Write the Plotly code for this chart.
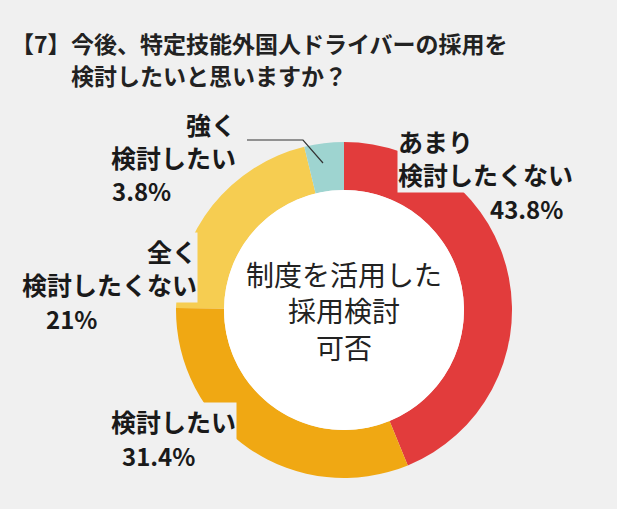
import plotly.graph_objects as go

# データ
categories = ["あまり検討したくない", "検討したい", "全く検討したくない", "強く検討したい"]
values = [43.8, 31.4, 21.0, 3.8]
colors = ["#e23c3c", "#f0a813", "#f6cd51", "#9ed4d0"]
pct_labels = ["43.8%", "31.4%", "21%", "3.8%"]
name_labels = ["あまり<br>検討したくない", "検討したい", "全く<br>検討したくない", "強く<br>検討したい"]

title_num = "【7】"
title_line1 = "今後、特定技能外国人ドライバーの採用を"
title_line2 = "検討したいと思いますか？"
center_text = "制度を活用した<br>採用検討<br>可否"

W, H = 617, 509
BG = "#f0f0f0"
FONT = "Noto Sans CJK JP"


def px(x):
    return x / W


def py(y):
    return 1 - y / H


# ドーナツの位置（ピクセル）
cx, cy, R, r_in = 344, 310, 168, 120

fig = go.Figure(go.Pie(
    labels=categories,
    values=values,
    marker=dict(colors=colors, line=dict(width=0)),
    hole=r_in / R,
    sort=False,
    direction="clockwise",
    rotation=0,
    textinfo="none",
    hoverinfo="label+percent",
    domain=dict(x=[px(cx - R), px(cx + R)], y=[py(cy + R), py(cy - R)]),
    showlegend=False,
))

# 中央の白い円
fig.add_shape(type="circle", xref="paper", yref="paper",
              x0=px(cx - r_in), x1=px(cx + r_in), y0=py(cy + r_in), y1=py(cy - r_in),
              fillcolor="white", line=dict(width=0))

# 引き出し線（強く検討したい）
fig.add_shape(type="path", xref="paper", yref="paper",
              path=f"M {px(247)} {py(140)} L {px(303)} {py(140)} L {px(323)} {py(163)}",
              line=dict(color="#333333", width=1.2))

title_font = dict(size=23, color="#222222", family=FONT, weight="bold")
annotations = [
    dict(text=title_num, x=px(73), y=py(43), xanchor="right", yanchor="middle", font=title_font),
    dict(text=title_line1, x=px(69), y=py(43), xanchor="left", yanchor="middle", font=title_font),
    dict(text=title_line2, x=px(69), y=py(75), xanchor="left", yanchor="middle", font=title_font),
    dict(text=center_text, x=px(cx), y=py(cy), xanchor="center", yanchor="middle",
         font=dict(size=28, color="#222222", family=FONT)),
]

# 項目名ラベル: (x, y, xanchor/align, 背景あり)
name_pos = [
    (397, 157, "left", True),
    (237, 421, "right", True),
    (198, 267, "right", True),
    (237, 141, "right", False),
]
for text, (x, y, anchor, boxed) in zip(name_labels, name_pos):
    annotations.append(dict(
        text=text, x=px(x), y=py(y), xanchor=anchor, align=anchor, yanchor="middle",
        bgcolor=BG if boxed else None, borderpad=0,
        font=dict(size=25, color="#1a1a1a", family=FONT, weight="bold"),
    ))

# 割合ラベル: (x, y, xanchor)
pct_pos = [
    (526, 208, "center"),
    (158, 455, "center"),
    (71, 318, "center"),
    (110, 190, "left"),
]
for text, (x, y, anchor) in zip(pct_labels, pct_pos):
    annotations.append(dict(
        text=text, x=px(x), y=py(y), xanchor=anchor, yanchor="middle",
        font=dict(size=24, color="#1a1a1a", family=FONT, weight="bold"),
    ))

for a in annotations:
    a.update(xref="paper", yref="paper", showarrow=False)

fig.update_layout(
    width=W, height=H,
    margin=dict(l=0, r=0, t=0, b=0),
    paper_bgcolor=BG,
    plot_bgcolor=BG,
    annotations=annotations,
)

fig.write_html("out.html", config={"displayModeBar": False},
               post_script="document.body.style.margin='0';")
